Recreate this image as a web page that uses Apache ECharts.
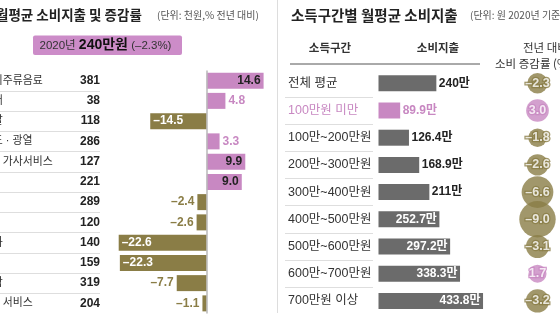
<!DOCTYPE html>
<html><head><meta charset="utf-8">
<script src="https://cdn.jsdelivr.net/npm/echarts@6/dist/echarts.min.js"></script>
<style>html,body{margin:0;padding:0;background:#fff}#c{width:560px;height:336px}</style>
</head><body><div id="c"></div>
<script>
// ---- data ----
const categories = ['식료품·비주류음료','주류·담배','의류·신발','주거·수도·광열','가정용품·가사서비스','보건','교통','통신','오락·문화','교육','음식·숙박','기타상품·서비스'];
const spend = [381,38,118,286,127,221,289,120,140,159,319,204];
const change = [14.6,4.8,-14.5,3.3,9.9,9.0,-2.4,-2.6,-22.6,-22.3,-7.7,-1.1];
const incomeGroups = ['전체 평균','100만원 미만','100만~200만원','200만~300만원','300만~400만원','400만~500만원','500만~600만원','600만~700만원','700만원 이상'];
const incomeSpend = [240,89.9,126.4,168.9,211,252.7,297.2,338.3,433.8];
const incomeChange = [-2.3,3.0,-1.8,-2.6,-6.6,-9.0,-3.1,1.7,-3.2];
const highlightGroup = '100만원 미만';

// ---- styles ----
const PINK = '#c888c2', OLIVE = '#8a7d46', GRAY = '#6b6b6b';
const F = "'Liberation Sans','Noto Sans CJK KR',sans-serif";
const K = "'Noto Sans CJK KR',sans-serif";
const fmt = v => v.toFixed(1).replace('-', '–');

const chart = echarts.init(document.getElementById('c'), null, {renderer:'canvas'});
const topL = 70.5, hL = 243, topR = 69.7, hR = 244.8;

const changeData = change.map(v => {
  const big = Math.abs(v) >= 8;
  const pos = v >= 0;
  return {
    value: v,
    itemStyle: {color: pos ? PINK : OLIVE},
    label: {
      show: true,
      position: big ? (pos ? 'insideRight' : 'insideLeft') : (pos ? 'right' : 'left'),
      distance: 3,
      color: big ? (pos ? '#222' : '#fff') : (pos ? PINK : OLIVE),
      fontWeight: 'bold', fontSize: 12, fontFamily: F,
      formatter: p => fmt(p.value)
    }
  };
});

const incomeData = incomeSpend.map((v, i) => {
  const inside = v > 245;
  const hl = incomeGroups[i] === highlightGroup;
  return {
    value: v,
    itemStyle: {color: hl ? PINK : GRAY},
    label: {
      show: true,
      position: inside ? 'insideRight' : 'right',
      distance: 2.5,
      color: inside ? '#fff' : (hl ? PINK : '#222'),
      fontWeight: 'bold', fontSize: 12, fontFamily: F,
      formatter: p => p.value + '만'
    }
  };
});

const bubbleData = incomeChange.map((v, i) => ({
  value: ['증감률', incomeGroups[i], v],
  itemStyle: {color: v >= 0 ? PINK : OLIVE},
  label: {textBorderColor: v >= 0 ? PINK : OLIVE}
}));

const g = o => Object.assign({outerBoundsMode: 'none', containLabel: false}, o);

const option = {
  backgroundColor: '#fff',
  animation: false,
  grid: [
    g({left: 100, top: topL, width: 178, height: hL}),
    g({left: 0, top: topL, width: 100, height: hL}),
    g({left: 285, top: topR, width: 88, height: hR}),
    g({left: 378.5, top: topR, width: 120.5, height: hR}),
    g({left: 517, top: topR, width: 41, height: hR})
  ],
  xAxis: [
    {gridIndex: 0, type: 'value', min: -27.4, max: 18.3, show: false},
    {gridIndex: 1, type: 'value', show: false},
    {gridIndex: 2, type: 'value', show: false},
    {gridIndex: 3, type: 'value', min: 0, max: 500, show: false},
    {gridIndex: 4, type: 'category', data: ['증감률'], show: false}
  ],
  yAxis: [
    {gridIndex: 0, type: 'category', data: categories, inverse: true,
     axisLine: {show: false}, axisTick: {show: false}, axisLabel: {show: false}, splitLine: {show: false}},
    {gridIndex: 1, type: 'category', data: categories, inverse: true, position: 'left',
     axisLine: {show: false}, axisTick: {show: false},
     splitLine: {show: true, interval: 0, showMinLine: false, showMaxLine: false, lineStyle: {color: '#dedede', width: 1}},
     axisLabel: {interval: 0, margin: 47, align: 'left', fontSize: 10.9, color: '#333', fontFamily: F,
                 formatter: val => val.replace(/·/g, ' · ')}},
    {gridIndex: 1, type: 'category', data: categories, inverse: true, position: 'right',
     axisLine: {show: false}, axisTick: {show: false}, splitLine: {show: false},
     axisLabel: {interval: 0, margin: 0, align: 'right', fontSize: 12, fontWeight: 'bold', color: '#222', fontFamily: F,
                 formatter: (val, idx) => String(spend[idx])}},
    {gridIndex: 2, type: 'category', inverse: true, position: 'left',
     data: incomeGroups.map(gr => gr === highlightGroup ? {value: gr, textStyle: {color: PINK, align: 'left'}} : gr),
     axisLine: {show: false}, axisTick: {show: false},
     splitLine: {show: true, interval: 0, showMinLine: false, showMaxLine: false, lineStyle: {color: '#dedede', width: 1}},
     axisLabel: {interval: 0, margin: -3, align: 'left', fontSize: 12.5, color: '#333', fontFamily: F}},
    {gridIndex: 3, type: 'category', data: incomeGroups, inverse: true, show: false},
    {gridIndex: 4, type: 'category', data: incomeGroups, inverse: true, show: false}
  ],
  series: [
    {type: 'bar', xAxisIndex: 0, yAxisIndex: 0, data: changeData, barWidth: 16,
     markLine: {silent: true, symbol: 'none', label: {show: false},
                lineStyle: {color: '#b8b8b8', width: 1.5, type: 'solid'},
                data: [{xAxis: 0}]}},
    {type: 'bar', xAxisIndex: 3, yAxisIndex: 4, data: incomeData, barWidth: 16},
    {type: 'scatter', xAxisIndex: 4, yAxisIndex: 5, data: bubbleData,
     symbolSize: v => 4 + 10.8 * Math.sqrt(Math.abs(v[2])),
     label: {show: true, position: 'inside', color: '#fff', fontWeight: 'bold', fontSize: 12.5, fontFamily: F,
             textBorderWidth: 2.5, formatter: p => fmt(p.value[2])}}
  ],
  graphic: [
    {type: 'line', shape: {x1: 277.5, y1: 0, x2: 277.5, y2: 313}, style: {stroke: '#dddddd', lineWidth: 1}},
    {type: 'text', x: -4, y: 15, style: {text: '월평균 소비지출 및 증감률', fontSize: 13.5, fontWeight: 'bold', fontFamily: K, fill: '#222', textAlign: 'left', textVerticalAlign: 'middle'}},
    {type: 'text', x: 157, y: 15.5, style: {text: '(단위: 천원,% 전년 대비)', fontSize: 10, fontFamily: K, fill: '#555', textAlign: 'left', textVerticalAlign: 'middle'}},
    {type: 'rect', shape: {x: 33, y: 35.5, width: 149, height: 19.5, r: 2}, style: {fill: '#cc8cc8'}},
    {type: 'text', x: 39.5, y: 45.5, style: {
      text: '{a|2020년 }{b|240만원}{a| (–2.3%)}', textAlign: 'left', textVerticalAlign: 'middle',
      rich: {a: {fontSize: 11.5, fontFamily: F, fill: '#333', color: '#333'},
             b: {fontSize: 14, fontWeight: 'bold', fontFamily: F, fill: '#111', color: '#111'}}}},
    {type: 'text', x: 291, y: 15, style: {text: '소득구간별 월평균 소비지출', fontSize: 14.5, fontWeight: 'bold', fontFamily: K, fill: '#222', textAlign: 'left', textVerticalAlign: 'middle'}},
    {type: 'text', x: 470, y: 15.5, style: {text: '(단위: 원 2020년 기준)', fontSize: 10, fontFamily: K, fill: '#555', textAlign: 'left', textVerticalAlign: 'middle'}},
    {type: 'text', x: 330, y: 48, style: {text: '소득구간', fontSize: 11.5, fontWeight: 'bold', fontFamily: K, fill: '#333', textAlign: 'center', textVerticalAlign: 'middle'}},
    {type: 'text', x: 438, y: 48, style: {text: '소비지출', fontSize: 11.5, fontWeight: 'bold', fontFamily: K, fill: '#333', textAlign: 'center', textVerticalAlign: 'middle'}},
    {type: 'text', x: 523, y: 48, style: {text: '전년 대비', fontSize: 11.5, fontFamily: K, fill: '#333', textAlign: 'left', textVerticalAlign: 'middle'}},
    {type: 'text', x: 495, y: 63.5, style: {text: '소비 증감률 (%)', fontSize: 11.5, fontFamily: K, fill: '#333', textAlign: 'left', textVerticalAlign: 'middle'}},
    {type: 'line', shape: {x1: 290, y1: 64, x2: 480, y2: 64}, style: {stroke: '#555', lineWidth: 1}}
  ]
};
chart.setOption(option);
</script>
</body></html>
